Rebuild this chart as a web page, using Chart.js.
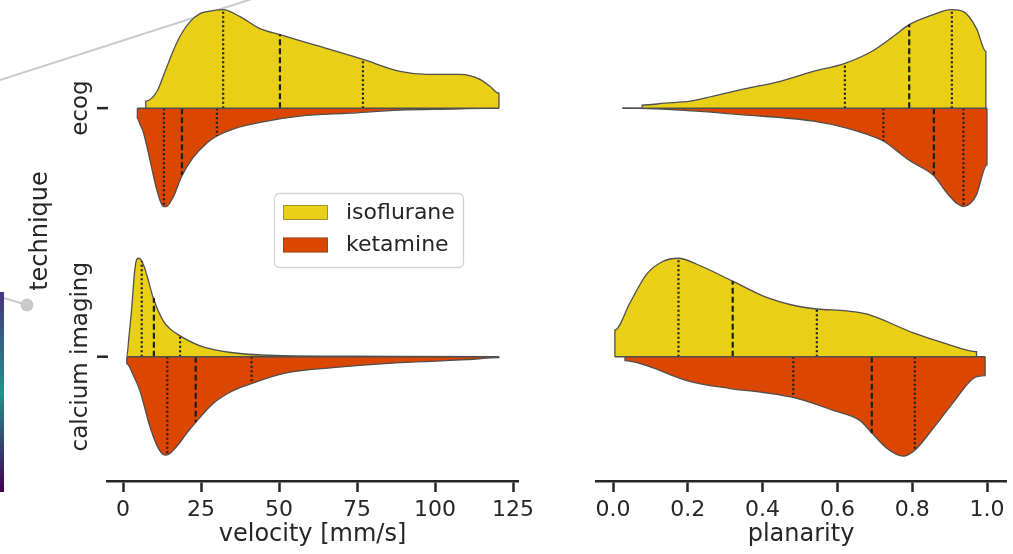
<!DOCTYPE html>
<html>
<head>
<meta charset="utf-8">
<script src="https://cdn.jsdelivr.net/npm/chart.js@4.4.0/dist/chart.umd.min.js"></script>
<style>
  html, body { margin: 0; padding: 0; background: #fff; }
  #wrap { position: relative; width: 1013px; height: 554px; overflow: hidden; }
  canvas { position: absolute; top: 0; }
  #chartVelocity { left: 0; }
  #chartPlanarity { left: 540px; }
</style>
</head>
<body>
<div id="wrap">
  <canvas id="chartVelocity" width="540" height="554"></canvas>
  <canvas id="chartPlanarity" width="473" height="554"></canvas>
</div>
<script>
const techniques = ['ecog', 'calcium imaging'];
const groups = ['isoflurane', 'ketamine'];
const colors = ['#E9D016', '#DB4600'];

// velocity [mm/s] - density half-widths (1 = widest part of a half violin)
const velEcogIsoX = [7.3, 10.9, 13.5, 16.0, 18.6, 21.5, 24.7, 28.8, 32.1, 37.5, 43.9, 50.3, 56.7, 63.1, 76.9, 88.8, 97.4, 108.0, 114.4, 117.6, 120.5];
const velEcogIsoW = [0.07, 0.17, 0.37, 0.57, 0.74, 0.87, 0.95, 0.98, 0.99, 0.92, 0.80, 0.74, 0.68, 0.62, 0.49, 0.37, 0.34, 0.34, 0.29, 0.22, 0.15];
const velEcogKetX = [4.6, 5.4, 6.4, 8.7, 10.9, 13.0, 13.8, 16.0, 18.9, 22.4, 26.9, 30.1, 35.3, 46.2, 56.7, 72.8, 88.8, 104.8, 120.5];
const velEcogKetW = [0.10, 0.16, 0.23, 0.53, 0.83, 0.99, 0.99, 0.90, 0.68, 0.50, 0.35, 0.28, 0.21, 0.13, 0.08, 0.05, 0.02, 0.01, 0.0];
const velCalIsoX = [1.2, 1.9, 2.8, 3.7, 4.4, 5.1, 6.5, 8.0, 9.7, 12.9, 15.1, 18.3, 24.7, 35.3, 51.3, 72.8, 120.5];
const velCalIsoW = [0.0, 0.20, 0.49, 0.85, 0.98, 0.99, 0.93, 0.78, 0.59, 0.36, 0.28, 0.21, 0.11, 0.04, 0.01, 0.005, 0.0];
const velCalKetX = [1.2, 3.2, 5.4, 8.7, 11.3, 13.5, 14.7, 16.1, 18.3, 20.4, 23.3, 28.9, 35.4, 41.2, 51.3, 67.3, 88.8, 110.3, 120.5];
const velCalKetW = [0.07, 0.18, 0.34, 0.71, 0.92, 0.99, 0.98, 0.94, 0.86, 0.77, 0.66, 0.47, 0.34, 0.27, 0.17, 0.11, 0.06, 0.03, 0.01];

// quartiles (first, median, third) and the half-width where each line stops
const velEcogIsoQ = [32.1, 50.3, 76.9];
const velEcogIsoQW = [0.99, 0.74, 0.49];
const velEcogKetQ = [13.1, 18.9, 30.1];
const velEcogKetQW = [0.99, 0.67, 0.28];
const velCalIsoQ = [6.0, 9.9, 18.3];
const velCalIsoQW = [0.96, 0.59, 0.21];
const velCalKetQ = [14.2, 23.3, 41.2];
const velCalKetQW = [0.97, 0.66, 0.27];

// planarity
const planEcogIsoX = [0.078, 0.139, 0.206, 0.268, 0.348, 0.447, 0.536, 0.620, 0.696, 0.749, 0.792, 0.848, 0.906, 0.937, 0.972, 0.997];
const planEcogIsoW = [0.03, 0.05, 0.07, 0.12, 0.19, 0.27, 0.37, 0.45, 0.58, 0.72, 0.84, 0.93, 0.99, 0.97, 0.80, 0.57];
const planEcogKetX = [0.025, 0.179, 0.357, 0.536, 0.625, 0.676, 0.723, 0.759, 0.794, 0.858, 0.892, 0.920, 0.937, 0.955, 0.972, 1.0];
const planEcogKetW = [0.0, 0.02, 0.07, 0.13, 0.20, 0.26, 0.33, 0.43, 0.53, 0.68, 0.85, 0.96, 0.99, 0.96, 0.87, 0.57];
const planCalIsoX = [0.005, 0.045, 0.090, 0.134, 0.175, 0.224, 0.320, 0.402, 0.491, 0.545, 0.625, 0.678, 0.803, 0.892, 0.972];
const planCalIsoW = [0.27, 0.54, 0.83, 0.96, 0.99, 0.93, 0.76, 0.61, 0.51, 0.48, 0.46, 0.43, 0.24, 0.13, 0.05];
const planCalKetX = [0.032, 0.090, 0.197, 0.313, 0.402, 0.482, 0.589, 0.660, 0.693, 0.732, 0.776, 0.807, 0.856, 0.910, 0.963, 0.995];
const planCalKetW = [0.04, 0.09, 0.24, 0.32, 0.36, 0.41, 0.54, 0.64, 0.77, 0.92, 1.00, 0.94, 0.72, 0.46, 0.22, 0.19];

const planEcogIsoQ = [0.620, 0.792, 0.906];
const planEcogIsoQW = [0.45, 0.84, 0.99];
const planEcogKetQ = [0.723, 0.858, 0.937];
const planEcogKetQW = [0.33, 0.67, 0.99];
const planCalIsoQ = [0.175, 0.320, 0.545];
const planCalIsoQW = [0.99, 0.76, 0.48];
const planCalKetQ = [0.482, 0.692, 0.807];
const planCalKetQW = [0.41, 0.77, 0.94];

const halfWidth = 0.4;
const fontFamily = '"DejaVu Sans", sans-serif';
const textColor = '#262626';
const axisColor = '#262626';
const outline = '#4f4f4f';

// side -1 draws the half above the category line, +1 below
function halfViolin(xs, ws, cat, side, color) {
  const pts = xs.map((x, i) => ({ x: x, y: cat + side * ws[i] * halfWidth }));
  pts.unshift({ x: xs[0], y: cat });
  pts.push({ x: xs[xs.length - 1], y: cat });
  return {
    data: pts, showLine: true, fill: { value: cat },
    backgroundColor: color, borderColor: outline, borderWidth: 1.3,
    pointRadius: 0, cubicInterpolationMode: 'monotone', order: 3
  };
}

function quartileLines(qs, qw, cat, side) {
  return qs.map((q, i) => ({
    data: [{ x: q, y: cat }, { x: q, y: cat + side * qw[i] * halfWidth }],
    showLine: true, fill: false, borderColor: '#1e1e1e', borderWidth: 2.2,
    borderDash: i === 1 ? [6, 3] : [2, 2.5], pointRadius: 0, order: 1
  }));
}

function baseline(xa, xb, cat) {
  const xs = xa.concat(xb);
  return {
    data: [{ x: Math.min(...xs), y: cat }, { x: Math.max(...xs), y: cat }],
    showLine: true, fill: false, borderColor: outline, borderWidth: 1.5,
    pointRadius: 0, order: 0
  };
}

function makeOptions(xMin, xMax, step, decimals, title, padLeft, padRight) {
  return {
    responsive: false,
    animation: false,
    layout: { padding: { left: padLeft, right: padRight, top: 0, bottom: 0 } },
    plugins: { legend: { display: false }, tooltip: { enabled: false } },
    scales: {
      x: {
        type: 'linear', min: xMin, max: xMax,
        ticks: {
          stepSize: step, includeBounds: false, color: textColor, padding: 5,
          font: { family: fontFamily, size: 22 },
          callback: v => v.toFixed(decimals)
        },
        grid: { display: true, drawOnChartArea: false, drawTicks: true, tickLength: 11, tickWidth: 2.5, tickColor: axisColor },
        border: { display: true, color: axisColor, width: 2.5 },
        title: { display: true, text: title, color: textColor, font: { family: fontFamily, size: 24 }, padding: { top: 0, bottom: 5 } },
        afterFit: s => { s.height = 73; }
      },
      y: { type: 'linear', display: false, reverse: true, min: -0.435, max: 1.5 }
    }
  };
}

const leftDecor = {
  id: 'leftDecor',
  beforeDatasetsDraw(chart) {
    const ctx = chart.ctx;
    ctx.save();
    // stray overlay from the source figure: grey line, dot and colour strip
    ctx.strokeStyle = '#cacaca';
    ctx.lineWidth = 2;
    ctx.beginPath(); ctx.moveTo(0, 80); ctx.lineTo(255, -2); ctx.stroke();
    ctx.beginPath(); ctx.moveTo(4, 298); ctx.lineTo(27, 305); ctx.stroke();
    ctx.fillStyle = '#c8c8c8';
    ctx.beginPath(); ctx.arc(27, 305, 6.5, 0, Math.PI * 2); ctx.fill();
    const g = ctx.createLinearGradient(0, 292, 0, 492);
    g.addColorStop(0, '#46337e');
    g.addColorStop(0.5, '#21918c');
    g.addColorStop(1, '#440154');
    ctx.fillStyle = g;
    ctx.fillRect(0, 292, 4, 200);
    ctx.restore();
  },
  afterDraw(chart) {
    const ctx = chart.ctx;
    const y = chart.scales.y;
    ctx.save();
    ctx.fillStyle = textColor;
    ctx.strokeStyle = axisColor;
    ctx.lineWidth = 2.5;
    ctx.font = '23px ' + fontFamily;
    techniques.forEach((t, i) => {
      const py = y.getPixelForValue(i);
      ctx.beginPath(); ctx.moveTo(97, py); ctx.lineTo(108, py); ctx.stroke();
      ctx.save();
      ctx.translate(87, py);
      ctx.rotate(-Math.PI / 2);
      ctx.textAlign = 'center';
      ctx.textBaseline = 'alphabetic';
      ctx.fillText(t, 0, 0);
      ctx.restore();
    });
    ctx.font = '24px ' + fontFamily;
    ctx.save();
    ctx.translate(47, 231);
    ctx.rotate(-Math.PI / 2);
    ctx.textAlign = 'center';
    ctx.textBaseline = 'alphabetic';
    ctx.fillText('technique', 0, 0);
    ctx.restore();

    // legend
    ctx.fillStyle = 'rgba(255,255,255,0.85)';
    ctx.strokeStyle = '#d4d4d4';
    ctx.lineWidth = 1.3;
    ctx.beginPath();
    ctx.roundRect(274.5, 193.5, 189, 74, 5);
    ctx.fill(); ctx.stroke();
    ctx.font = '22px ' + fontFamily;
    ctx.textBaseline = 'middle';
    ctx.textAlign = 'left';
    groups.forEach((name, i) => {
      const top = 205 + i * 32.5;
      ctx.fillStyle = colors[i];
      ctx.fillRect(283, top, 45, 15);
      ctx.strokeStyle = 'rgba(70,70,70,0.45)';
      ctx.lineWidth = 1;
      ctx.strokeRect(283.5, top + 0.5, 44, 14);
      ctx.fillStyle = textColor;
      ctx.fillText(name, 346, top + 8);
    });
    ctx.restore();
  }
};

new Chart(document.getElementById('chartVelocity'), {
  type: 'scatter',
  data: {
    datasets: [
      halfViolin(velEcogIsoX, velEcogIsoW, 0, -1, colors[0]),
      halfViolin(velEcogKetX, velEcogKetW, 0, 1, colors[1]),
      halfViolin(velCalIsoX, velCalIsoW, 1, -1, colors[0]),
      halfViolin(velCalKetX, velCalKetW, 1, 1, colors[1]),
      ...quartileLines(velEcogIsoQ, velEcogIsoQW, 0, -1),
      ...quartileLines(velEcogKetQ, velEcogKetQW, 0, 1),
      ...quartileLines(velCalIsoQ, velCalIsoQW, 1, -1),
      ...quartileLines(velCalKetQ, velCalKetQW, 1, 1),
      baseline(velEcogIsoX, velEcogKetX, 0),
      baseline(velCalIsoX, velCalKetX, 1)
    ]
  },
  options: makeOptions(-5.13, 126.6, 25, 0, 'velocity [mm/s]', 107, 22),
  plugins: [leftDecor]
});

new Chart(document.getElementById('chartPlanarity'), {
  type: 'scatter',
  data: {
    datasets: [
      halfViolin(planEcogIsoX, planEcogIsoW, 0, -1, colors[0]),
      halfViolin(planEcogKetX, planEcogKetW, 0, 1, colors[1]),
      halfViolin(planCalIsoX, planCalIsoW, 1, -1, colors[0]),
      halfViolin(planCalKetX, planCalKetW, 1, 1, colors[1]),
      ...quartileLines(planEcogIsoQ, planEcogIsoQW, 0, -1),
      ...quartileLines(planEcogKetQ, planEcogKetQW, 0, 1),
      ...quartileLines(planCalIsoQ, planCalIsoQW, 1, -1),
      ...quartileLines(planCalKetQ, planCalKetQW, 1, 1),
      baseline(planEcogIsoX, planEcogKetX, 0),
      baseline(planCalIsoX, planCalKetX, 1)
    ]
  },
  options: makeOptions(-0.0455, 1.0508, 0.2, 1, 'planarity', 56, 7)
});
</script>
</body>
</html>
